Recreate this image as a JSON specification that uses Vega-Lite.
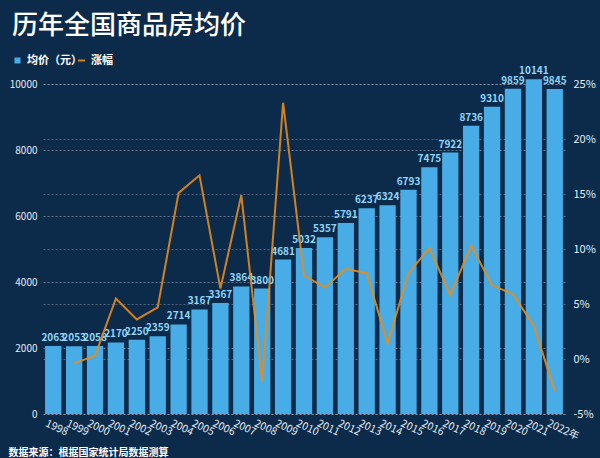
{
  "$schema": "https://vega.github.io/schema/vega-lite/v6.json",
  "width": 522,
  "height": 330,
  "autosize": {"type": "none"},
  "padding": {"left": 43, "top": 84, "right": 35, "bottom": 44},
  "background": "#0c2b4b",
  "config": {
    "view": {"stroke": null},
    "font": "Noto Sans CJK SC",
    "axis": {"labelColor": "#e6edf5", "labelFont": "Noto Sans CJK SC", "labelFontSize": 10, "domain": false, "ticks": false},
    "legend": {"labelColor": "#ffffff", "labelFont": "Noto Sans CJK SC", "labelFontSize": 11, "labelFontWeight": "bold"}
  },
  "title": {
    "text": "历年全国商品房均价",
    "anchor": "start",
    "frame": "group",
    "dx": -31,
    "offset": 16,
    "fontSize": 26,
    "fontWeight": 500,
    "font": "Noto Sans CJK SC",
    "color": "#ffffff"
  },
  "data": {
    "values": [
      {"year": "1998", "price": 2063, "rate": null},
      {"year": "1999", "price": 2053, "rate": -0.4},
      {"year": "2000", "price": 2058, "rate": 0.3},
      {"year": "2001", "price": 2170, "rate": 5.5},
      {"year": "2002", "price": 2250, "rate": 3.6},
      {"year": "2003", "price": 2359, "rate": 4.7},
      {"year": "2004", "price": 2714, "rate": 15.1},
      {"year": "2005", "price": 3167, "rate": 16.7},
      {"year": "2006", "price": 3367, "rate": 6.4},
      {"year": "2007", "price": 3864, "rate": 14.9},
      {"year": "2008", "price": 3800, "rate": -2.1},
      {"year": "2009", "price": 4681, "rate": 23.3},
      {"year": "2010", "price": 5032, "rate": 7.6},
      {"year": "2011", "price": 5357, "rate": 6.5},
      {"year": "2012", "price": 5791, "rate": 8.2},
      {"year": "2013", "price": 6237, "rate": 7.8},
      {"year": "2014", "price": 6324, "rate": 1.4},
      {"year": "2015", "price": 6793, "rate": 7.8},
      {"year": "2016", "price": 7475, "rate": 10.1},
      {"year": "2017", "price": 7922, "rate": 5.8},
      {"year": "2018", "price": 8736, "rate": 10.3},
      {"year": "2019", "price": 9310, "rate": 6.7},
      {"year": "2020", "price": 9859, "rate": 5.9},
      {"year": "2021", "price": 10141, "rate": 3.0},
      {"year": "2022", "price": 9845, "rate": -2.9}
    ]
  },
  "encoding": {
    "x": {
      "field": "year",
      "type": "ordinal",
      "scale": {"paddingInner": 0.22, "paddingOuter": 0.1},
      "axis": {
        "labelAngle": 25,
        "labelAlign": "left",
        "labelBaseline": "top",
        "labelPadding": 4,
        "labelOffset": -5,
        "labelFontSize": 10.5,
        "labelExpr": "datum.value == '2022' ? '2022年' : datum.value",
        "title": "数据来源：根据国家统计局数据测算",
        "titleColor": "#ffffff",
        "titleFont": "Noto Sans CJK SC",
        "titleFontSize": 10,
        "titleFontWeight": "bold",
        "titleAnchor": "start",
        "titleAlign": "left",
        "titleBaseline": "alphabetic",
        "titleX": -35,
        "titleY": 41
      }
    }
  },
  "layer": [
    {
      "encoding": {
        "y": {
          "field": "price",
          "type": "quantitative",
          "scale": {"domain": [0, 10000]},
          "axis": {
            "values": [0, 2000, 4000, 6000, 8000, 10000],
            "format": "d",
            "title": null,
            "grid": true,
            "gridColor": "#c8d6e6",
            "gridOpacity": 0.45,
            "gridDash": [2, 2],
            "labelPadding": 6,
            "labelFontSize": 10
          }
        }
      },
      "layer": [
        {
          "mark": {"type": "bar", "color": "#48ade6"},
          "encoding": {
            "color": {
              "datum": "均价（元）",
              "scale": {"range": ["#48ade6"]},
              "legend": {"orient": "none", "legendX": -31, "legendY": -29, "symbolType": "square", "symbolSize": 36, "title": null, "labelFontSize": 11}
            }
          }
        },
        {
          "mark": {"type": "text", "baseline": "bottom", "dy": -3, "fontSize": 10, "fontWeight": "bold", "color": "#8fd6fa"},
          "encoding": {"text": {"field": "price", "type": "quantitative", "format": "d"}}
        }
      ]
    },
    {
      "mark": {"type": "line", "strokeWidth": 2, "opacity": 0.9},
      "encoding": {
        "y": {
          "field": "rate",
          "type": "quantitative",
          "scale": {"domain": [-5, 25]},
          "axis": {
            "orient": "right",
            "values": [-5, 0, 5, 10, 15, 20, 25],
            "labelExpr": "datum.value + '%'",
            "title": null,
            "grid": true,
            "gridColor": "#c8d6e6",
            "gridOpacity": 0.35,
            "gridDash": [2, 2],
            "labelPadding": 8,
            "labelFontSize": 11
          }
        },
        "stroke": {
          "datum": "涨幅",
          "scale": {"range": ["#e88b1c"]},
          "legend": {"orient": "none", "legendX": 33, "legendY": -29, "title": null, "symbolSize": 50, "symbolStrokeWidth": 2}
        }
      }
    }
  ],
  "resolve": {"scale": {"y": "independent"}}
}
